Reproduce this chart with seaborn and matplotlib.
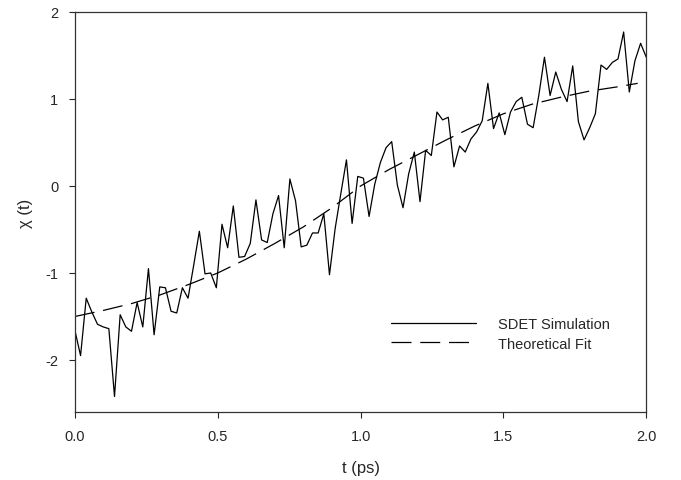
import numpy as np
import pandas as pd
import seaborn as sns
import matplotlib.pyplot as plt

# SDET simulation trace, 102 samples on 0..2 ps
chi_sim = [
    -1.66, -1.95, -1.29, -1.45, -1.59, -1.62, -1.64, -2.42, -1.48, -1.62,
    -1.67, -1.34, -1.62, -0.95, -1.71, -1.16, -1.17, -1.44, -1.46, -1.17,
    -1.29, -0.91, -0.52, -1.01, -1.00, -1.17, -0.44, -0.71, -0.23, -0.82,
    -0.81, -0.66, -0.16, -0.62, -0.65, -0.32, -0.11, -0.71, 0.08, -0.17,
    -0.70, -0.68, -0.54, -0.54, -0.32, -1.02, -0.49, -0.09, 0.30, -0.43,
    0.11, 0.09, -0.35, 0.02, 0.27, 0.44, 0.51, 0.01, -0.25, 0.14,
    0.39, -0.18, 0.41, 0.35, 0.85, 0.76, 0.79, 0.22, 0.46, 0.39,
    0.54, 0.62, 0.75, 1.18, 0.66, 0.84, 0.59, 0.85, 0.97, 1.02,
    0.71, 0.67, 1.04, 1.48, 1.04, 1.31, 1.11, 0.97, 1.38, 0.74,
    0.53, 0.67, 0.83, 1.39, 1.34, 1.42, 1.46, 1.77, 1.08, 1.44,
    1.64, 1.48,
]
t_sim = np.linspace(0.0, 2.0, len(chi_sim))

# theoretical fit curve
t_fit = [0.0, 0.1, 0.2, 0.3, 0.4, 0.5, 0.6, 0.7, 0.8, 0.9, 1.0,
         1.1, 1.2, 1.3, 1.4, 1.5, 1.6, 1.7, 1.8, 1.9, 1.97]
chi_fit = [-1.50, -1.43, -1.35, -1.25, -1.13, -1.00, -0.84, -0.66, -0.47, -0.25, 0.0,
           0.19, 0.36, 0.53, 0.69, 0.83, 0.94, 1.02, 1.09, 1.14, 1.18]

df_sim = pd.DataFrame({'t': t_sim, 'chi': chi_sim})
df_fit = pd.DataFrame({'t': t_fit, 'chi': chi_fit})

sns.set_style('ticks')
plt.rcParams['font.family'] = ['Liberation Sans', 'DejaVu Sans']
plt.rcParams['axes.unicode_minus'] = False

fig = plt.figure(figsize=(6.81, 4.81), dpi=100)
ax = fig.add_axes([0.110, 0.141, 0.839, 0.832])

sns.lineplot(data=df_sim, x='t', y='chi', ax=ax, color='black', lw=0.9,
             estimator=None, label='SDET Simulation')
sns.lineplot(data=df_fit, x='t', y='chi', ax=ax, color='black', lw=0.9,
             estimator=None, label='Theoretical Fit')
ax.lines[1].set_dashes((16, 7))

ax.set_xlim(0, 2.0)
ax.set_ylim(-2.6, 2.0)
ax.set_xticks([0.0, 0.5, 1.0, 1.5, 2.0])
ax.set_xticklabels(['0.0', '0.5', '1.0', '1.5', '2.0'])
ax.set_yticks([-2, -1, 0, 1, 2])
ax.tick_params(direction='out', length=4, width=0.8, labelsize=10.5, pad=8)
for s in ax.spines.values():
    s.set_linewidth(0.9)
    s.set_color('#333333')

ax.set_xlabel('t (ps)', fontsize=12, labelpad=12)
ax.set_ylabel('\u03c7 (t)', fontsize=12, labelpad=9)

leg = ax.legend(loc='upper left', bbox_to_anchor=(0.541, 0.255), frameon=False,
                handlelength=5.8, handletextpad=1.5, labelspacing=0.35,
                borderpad=0, fontsize=10.5)

fig.savefig('out.png', dpi=100)
